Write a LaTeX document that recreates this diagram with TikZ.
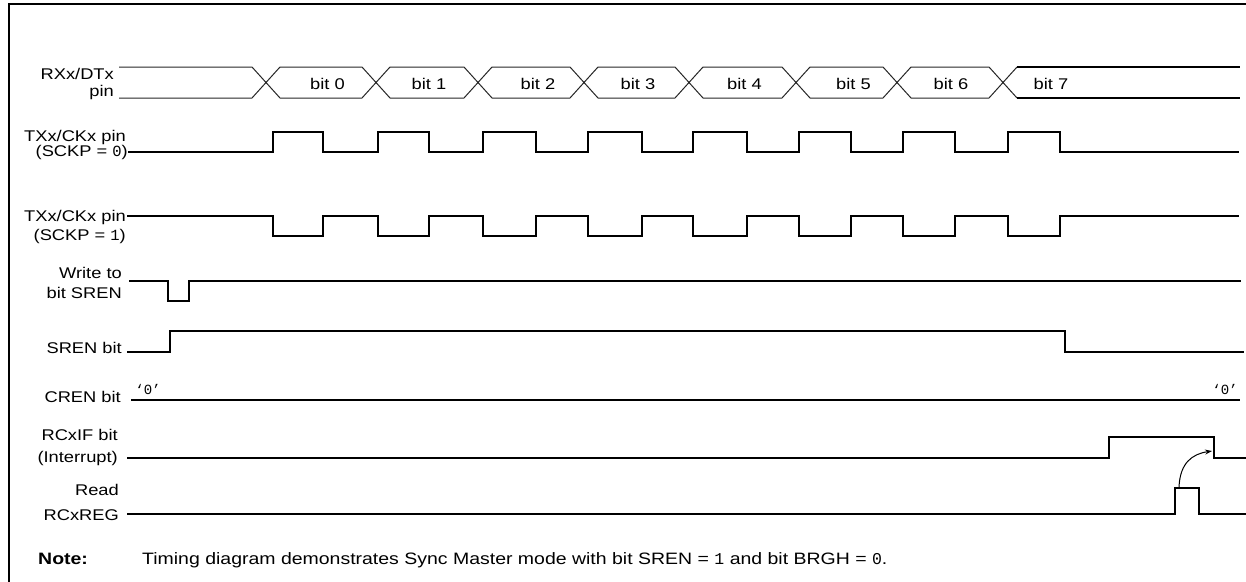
\documentclass[tikz,border=0pt]{standalone}
\usepackage{fontspec}
\setmainfont{Liberation Sans}[FakeStretch=1.18]
\setmonofont{Liberation Mono}
\usetikzlibrary{arrows.meta}
\begin{document}
\begin{tikzpicture}[x=1pt,y=-1pt,
  lbl/.style={anchor=base east, inner sep=0pt, font=\fontsize{15.5}{16}\selectfont},
  lblw/.style={anchor=base west, inner sep=0pt, font=\fontsize{16.5}{17}\selectfont},
  bitlbl/.style={anchor=base, inner sep=0pt, font=\fontsize{15.5}{16}\selectfont},
  zero/.style={inner sep=0pt, font=\fontsize{14}{15}\ttfamily},
  wire/.style={line width=2pt, line join=miter, line cap=rect},
  bus/.style={line width=1pt, black!85, line join=miter},
  busend/.style={line width=1.6pt},
  frame/.style={line width=2pt},
  hook/.style={line width=1pt, -{Stealth[length=7pt,width=5pt]}}
]
\useasboundingbox (0,0) rectangle (1246,581);
% frame (cropped)
\draw[frame] (9,600) -- (9,4) -- (1260,4);

% ---------- labels ----------
\node[lbl] (l1a) at (114,79) {RXx/DTx};
\node[lbl] (l1b) at (114,96) {pin};
\node[lbl] (l2a) at (126,141) {TXx/CKx pin};
\node[lbl] (l2b) at (128,156.5) {(SCKP = \texttt{0})};
\node[lbl] (l3a) at (126,221.5) {TXx/CKx pin};
\node[lbl] (l3b) at (126,240) {(SCKP = \texttt{1})};
\node[lbl] (l4a) at (122,278) {Write to};
\node[lbl] (l4b) at (122,298) {bit SREN};
\node[lbl] (l5) at (122,353) {SREN bit};
\node[lbl] (l6) at (121,402) {CREN bit};
\node[lbl] (l7a) at (118,440) {RCxIF bit};
\node[lbl] (l7b) at (118,462) {(Interrupt)};
\node[lbl] (l8a) at (119,495) {Read};
\node[lbl] (l8b) at (119,520) {RCxREG};
\node[lblw, font=\fontsize{16.5}{17}\selectfont\bfseries] (note) at (38,564) {Note:};
\node[lblw] (notetext) at (142,564) {Timing diagram demonstrates Sync Master mode with bit SREN = \texttt{1} and bit BRGH = \texttt{0}.};

% ---------- RXx/DTx bus ----------
\draw[bus] (119,67) -- (252,67) -- (266,82.5) -- (252,98) -- (119,98);
\foreach \a/\b in {266/376, 376/478, 478/584, 584/689, 689/796, 796/897, 897/1003}
  \draw[bus] (\a,82.5) -- (\a+14,67) -- (\b-14,67) -- (\b,82.5) -- (\b-14,98) -- (\a+14,98) -- cycle;
\draw[bus] (1017,67) -- (1003,82.5) -- (1017,98);
\draw[busend] (1017,67) -- (1240,67);
\draw[busend] (1017,98) -- (1240,98);
\foreach \x/\t in {327.5/0, 429/1, 538/2, 638/3, 744.5/4, 853.5/5, 951/6}
  \node[bitlbl] (bit\t) at (\x,89) {bit \t};
\node[bitlbl] (bit7) at (1051,89) {bit 7};

% ---------- clocks ----------
\draw[wire] (129,152)
  \foreach \r/\f in {273/323, 378/429, 483/536, 588/642, 693/747, 799/851, 903/955, 1008/1060}
    { -- (\r,152) -- (\r,132) -- (\f,132) -- (\f,152) } -- (1238,152);
\draw[wire] (128,216)
  \foreach \r/\f in {273/323, 378/429, 483/536, 588/642, 693/747, 799/851, 903/955, 1008/1060}
    { -- (\r,216) -- (\r,236) -- (\f,236) -- (\f,216) } -- (1238,216);

% ---------- Write to bit SREN ----------
\draw[wire] (130,281) -- (168,281) -- (168,301) -- (189,301) -- (189,281) -- (1240,281);
% ---------- SREN bit ----------
\draw[wire] (128,352) -- (170,352) -- (170,331) -- (1065,331) -- (1065,352) -- (1243,352);
% ---------- CREN bit ----------
\draw[wire] (132,400) -- (1239,400);
\node[zero] (c0a) at (148,389) {‘0’};
\node[zero] (c0b) at (1225,389) {‘0’};
% ---------- RCxIF ----------
\draw[wire] (128,458) -- (1109,458) -- (1109,437) -- (1214,437) -- (1214,458) -- (1250,458);
% ---------- Read RCxREG ----------
\draw[wire] (128,514) -- (1175,514) -- (1175,488) -- (1199,488) -- (1199,514) -- (1250,514);
\coordinate (rdp) at (1179,487);
\coordinate (ifp) at (1212,451);
\draw[hook] (rdp) .. controls (1180,463) and (1192,454) .. (ifp);
\end{tikzpicture}
\end{document}
